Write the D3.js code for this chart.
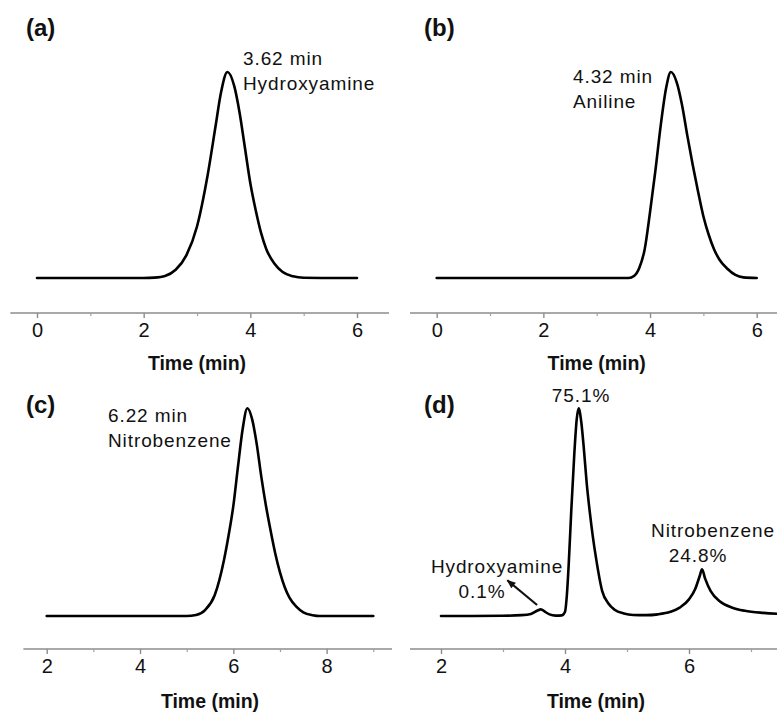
<!DOCTYPE html>
<html><head><meta charset="utf-8">
<script src="https://cdn.jsdelivr.net/npm/d3@7"></script>
<style>
body{margin:0;background:#fff}
svg{display:block}
text{font-family:Arial,"Liberation Sans",sans-serif;fill:#111}
.tick text{font-size:20px}
</style>
</head><body>
<svg id="chart" width="777" height="713"></svg>
<script>
// ---- data (time in min, normalized detector signal) ----
const timeA = [0,1,2,2.2,2.4,2.6,2.8,3.0,3.2,3.35,3.45,3.57,3.7,3.8,3.9,4.0,4.1,4.2,4.3,4.45,4.6,4.8,5.0,5.5,6.0];
const sigA  = [0,0,0,0.002,0.01,0.04,0.11,0.25,0.5,0.74,0.9,1.0,0.93,0.8,0.63,0.46,0.33,0.22,0.14,0.07,0.03,0.008,0.001,0,0];

const timeB = [0,1,2,3,3.6,3.7,3.8,3.9,4.0,4.1,4.2,4.3,4.39,4.5,4.6,4.7,4.8,4.9,5.0,5.1,5.2,5.3,5.45,5.6,5.75,6.0];
const sigB  = [0,0,0,0,0,0.01,0.05,0.14,0.32,0.52,0.74,0.92,1.0,0.95,0.84,0.69,0.55,0.42,0.3,0.21,0.14,0.09,0.045,0.015,0.003,0];

const timeC = [2,3,4,5.0,5.2,5.4,5.6,5.8,5.9,6.0,6.1,6.2,6.3,6.4,6.5,6.6,6.7,6.8,6.9,7.0,7.1,7.2,7.35,7.5,7.7,7.85,8.5,9.0];
const sigC  = [0,0,0,0,0.005,0.03,0.1,0.27,0.39,0.53,0.72,0.9,1.0,0.95,0.83,0.67,0.53,0.41,0.3,0.21,0.14,0.09,0.045,0.018,0.004,0,0,0];

const timeD = [2.0,2.5,3.0,3.3,3.45,3.55,3.61,3.68,3.75,3.85,3.95,4.0,4.03,4.06,4.1,4.15,4.19,4.22,4.26,4.3,4.35,4.4,4.45,4.5,4.6,4.7,4.8,4.95,5.1,5.3,5.5,5.7,5.85,6.0,6.1,6.17,6.21,6.26,6.35,6.5,6.7,6.9,7.2,7.5];
const sigD  = [0,0,0.001,0.004,0.01,0.025,0.032,0.02,0.008,0.002,0.003,0.02,0.1,0.25,0.5,0.78,0.95,1.0,0.94,0.82,0.64,0.5,0.38,0.28,0.12,0.06,0.03,0.012,0.005,0.004,0.008,0.02,0.04,0.08,0.13,0.19,0.225,0.18,0.12,0.07,0.04,0.025,0.015,0.01];

const ticksA = [0,2,4,6], minorA = [1,3,5];
const ticksB = [0,2,4,6], minorB = [1,3,5];
const ticksC = [2,4,6,8], minorC = [3,5,7,9];
const ticksD = [2,4,6],   minorD = [3,5,7];

const panelLetters = ["(a)","(b)","(c)","(d)"];
const axisTitle = "Time (min)";

// ---- layout ----
const svg = d3.select("#chart");
const panels = [
  {t:timeA, v:sigA, dom:[0,6], rng:[37,357],     ext:[-0.5,6.6], axisY:313, y0:278, y1:72,    major:ticksA, minor:minorA, lx:26,  ly:36,  titleY:370},
  {t:timeB, v:sigB, dom:[0,6], rng:[436.7,756.7],ext:[-0.5,6.4], axisY:313, y0:278, y1:72,    major:ticksB, minor:minorB, lx:424, ly:36,  titleY:370},
  {t:timeC, v:sigC, dom:[2,9], rng:[46.7,373.3], ext:[1.5,9.4],  axisY:649, y0:616, y1:408.3, major:ticksC, minor:minorC, lx:26,  ly:413, titleY:708},
  {t:timeD, v:sigD, dom:[2,7], rng:[441,751],    ext:[1.5,7.6],  axisY:649, y0:616, y1:408.3, major:ticksD, minor:minorD, lx:424, ly:413, titleY:708}
];

const defs = svg.append("defs");
defs.append("marker").attr("id","arrow").attr("viewBox","0 0 10 10")
  .attr("refX",9).attr("refY",5).attr("markerWidth",10).attr("markerHeight",9)
  .attr("orient","auto").attr("markerUnits","userSpaceOnUse")
  .append("path").attr("d","M0,1 L10,5 L0,9 Z").attr("fill","#111");

panels.forEach((p,i) => {
  const x = d3.scaleLinear().domain(p.dom).range(p.rng);
  const y = d3.scaleLinear().domain([0,1]).range([p.y0,p.y1]);
  p.x = x; p.y = y;
  const g = svg.append("g");

  // axis line
  g.append("line")
    .attr("x1", x(p.ext[0])).attr("x2", x(p.ext[1]))
    .attr("y1", p.axisY).attr("y2", p.axisY)
    .attr("stroke","#8c8c8c").attr("stroke-width",1.6);

  const ax = d3.axisBottom(x).tickValues(p.major).tickSize(5).tickPadding(5).tickFormat(d3.format("d"));
  const ag = g.append("g").attr("transform",`translate(0,${p.axisY})`).call(ax)
    .attr("font-size",20).attr("font-family",'Arial,"Liberation Sans",sans-serif');
  ag.select(".domain").remove();
  ag.selectAll(".tick line").attr("stroke","#8c8c8c").attr("stroke-width",1.4);
  ag.selectAll(".tick text").attr("fill","#111").style("fill","#111");

  const mx = d3.axisBottom(x).tickValues(p.minor).tickSize(3).tickFormat("");
  const mg = g.append("g").attr("transform",`translate(0,${p.axisY})`).call(mx);
  mg.select(".domain").remove();
  mg.selectAll(".tick line").attr("stroke","#a0a0a0").attr("stroke-width",1.2);

  // axis title
  g.append("text").attr("x", x((p.dom[0]+p.dom[1])/2)).attr("y", p.titleY)
    .attr("text-anchor","middle").style("font-size","19.5px").style("font-weight","bold")
    .text(axisTitle);

  // panel letter
  g.append("text").attr("x", p.lx).attr("y", p.ly)
    .style("font-size","24px").style("font-weight","bold").text(panelLetters[i]);

  // curve
  const pts = p.t.map((t,k)=>[t,p.v[k]]);
  g.append("path").datum(pts)
    .attr("fill","none").attr("stroke","#000").attr("stroke-width",2.6)
    .attr("stroke-linejoin","round").attr("stroke-linecap","round")
    .attr("d", d3.line().x(d=>x(d[0])).y(d=>y(d[1])).curve(d3.curveMonotoneX));
});

// ---- annotations ----
function label(xp, yp, str, anchor){
  svg.append("text").attr("x",xp).attr("y",yp)
    .attr("text-anchor",anchor||"start")
    .style("font-size","19px").style("letter-spacing","0.9px").text(str);
}
label(243, 65, "3.62 min");
label(243, 90, "Hydroxyamine");
label(573, 83, "4.32 min");
label(573, 108, "Aniline");
label(108, 422, "6.22 min");
label(108, 447, "Nitrobenzene");
label(581, 402, "75.1%", "middle");
label(713, 537, "Nitrobenzene", "middle");
label(698, 562, "24.8%", "middle");
label(497, 573, "Hydroxyamine", "middle");
label(482, 598, "0.1%", "middle");

// arrow from small hydroxyamine peak in (d) to its label
const pd = panels[3];
svg.append("line")
  .attr("x1", pd.x(3.55)).attr("y1", pd.y(0.053))
  .attr("x2", pd.x(3.07)).attr("y2", pd.y(0.172))
  .attr("stroke","#111").attr("stroke-width",2.2)
  .attr("marker-end","url(#arrow)");
</script>
</body></html>
